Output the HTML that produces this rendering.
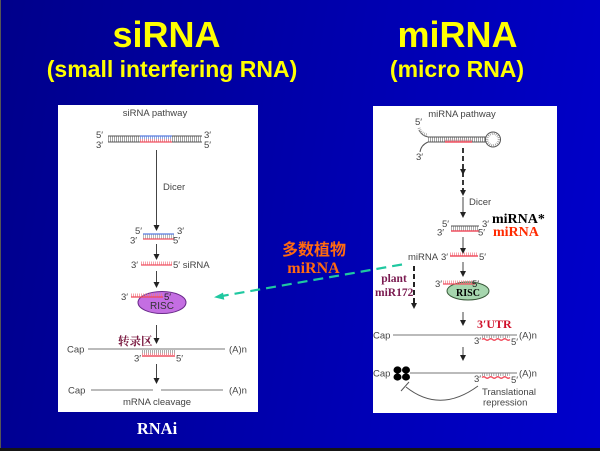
<!DOCTYPE html>
<html><head><meta charset="utf-8"><style>
html,body{margin:0;padding:0}
body{width:600px;height:451px;overflow:hidden;position:relative;background:linear-gradient(100deg,#00008a 0%,#0000b0 55%,#0000cc 100%);}
svg{position:absolute;left:0;top:0}
</style></head><body>
<svg width="600" height="451" viewBox="0 0 600 451" xmlns="http://www.w3.org/2000/svg">
<rect x="0" y="0" width="1" height="451" fill="#555"/>
<rect x="0" y="448" width="600" height="3" fill="#151515"/>
<!-- Titles -->
<g font-family="Liberation Sans, Arial, sans-serif" font-weight="bold" fill="#ffff00">
<text x="166.5" y="47" font-size="36" text-anchor="middle">siRNA</text>
<text x="172" y="77" font-size="23" text-anchor="middle">(small interfering RNA)</text>
<text x="457.5" y="47" font-size="36" text-anchor="middle">miRNA</text>
<text x="457" y="77" font-size="23" text-anchor="middle">(micro RNA)</text>
</g>
<!-- Panels -->
<rect x="58" y="105" width="200" height="307" fill="#fff"/>
<rect x="373" y="106" width="184" height="307" fill="#fff"/>

<g font-family="Liberation Sans, Arial, sans-serif" font-size="9.5" fill="#444">
<!-- LEFT PANEL -->
<text x="155" y="116" text-anchor="middle">siRNA pathway</text>
<!-- long dsRNA -->
<line x1="108" y1="139" x2="202" y2="139" stroke="#777" stroke-width="6" stroke-dasharray="0.7 1.3"/>
<line x1="140" y1="137.5" x2="172" y2="137.5" stroke="#7a9ae8" stroke-width="3" stroke-dasharray="0.7 1.3"/>
<line x1="140" y1="140.5" x2="172" y2="140.5" stroke="#f07a86" stroke-width="3" stroke-dasharray="0.7 1.3"/>
<line x1="108" y1="136" x2="202" y2="136" stroke="#555" stroke-width="1"/>
<line x1="108" y1="142" x2="202" y2="142" stroke="#555" stroke-width="1"/>
<line x1="140" y1="136" x2="172" y2="136" stroke="#5a7ee0" stroke-width="1.3"/>
<line x1="140" y1="142" x2="172" y2="142" stroke="#f05060" stroke-width="1.3"/>
<text x="96" y="138">5′</text><text x="96" y="148">3′</text>
<text x="204" y="138">3′</text><text x="204" y="148">5′</text>
<!-- arrow Dicer -->
<line x1="156.5" y1="150" x2="156.5" y2="226" stroke="#444" stroke-width="1"/>
<path d="M153.5 225 L159.5 225 L156.5 231 Z" fill="#222"/>
<text x="163" y="190">Dicer</text>
<!-- short duplex -->
<line x1="143" y1="236.5" x2="174" y2="236.5" stroke="#999" stroke-width="4" stroke-dasharray="0.7 1.3"/>
<line x1="143" y1="234" x2="174" y2="234" stroke="#5a7ee0" stroke-width="1.3"/>
<line x1="143" y1="239" x2="174" y2="239" stroke="#f05060" stroke-width="1.3"/>
<text x="135" y="234">5′</text><text x="177" y="234">3′</text>
<text x="130" y="243.5">3′</text><text x="173" y="243.5">5′</text>
<line x1="156.5" y1="244" x2="156.5" y2="255" stroke="#444" stroke-width="1"/>
<path d="M153.5 254 L159.5 254 L156.5 260 Z" fill="#222"/>
<!-- siRNA -->
<line x1="141" y1="263" x2="172" y2="263" stroke="#f07a86" stroke-width="3" stroke-dasharray="0.7 1.3"/>
<line x1="141" y1="265" x2="172" y2="265" stroke="#f05060" stroke-width="1.3"/>
<text x="131" y="268">3′</text><text x="173" y="268">5′ siRNA</text>
<line x1="156.5" y1="271" x2="156.5" y2="283" stroke="#444" stroke-width="1"/>
<path d="M153.5 282 L159.5 282 L156.5 288 Z" fill="#222"/>
<!-- RISC purple -->
<ellipse cx="162" cy="302.5" rx="24" ry="11" fill="#c46ee2" stroke="#6a2a8a" stroke-width="1"/>
<line x1="131" y1="295" x2="163" y2="295" stroke="#f07a86" stroke-width="3" stroke-dasharray="0.7 1.3"/>
<line x1="131" y1="297" x2="163" y2="297" stroke="#f04858" stroke-width="1.3"/>
<text x="121" y="300">3′</text><text x="164" y="300" fill="#222">5′</text>
<text x="162" y="309" text-anchor="middle" fill="#333" font-size="10">RISC</text>
<line x1="156.5" y1="325" x2="156.5" y2="339" stroke="#444" stroke-width="1"/>
<path d="M153.5 338 L159.5 338 L156.5 344 Z" fill="#222"/>
<text x="118" y="345" font-family="Liberation Serif, Noto Serif CJK SC, serif" font-weight="bold" font-size="11.5" fill="#7a1a40">转录区</text>
<!-- mRNA 1 -->
<line x1="88" y1="349" x2="225" y2="349" stroke="#777" stroke-width="1"/>
<text x="67" y="352.5">Cap</text><text x="229" y="352.5">(A)n</text>
<line x1="142" y1="352.5" x2="175" y2="352.5" stroke="#888" stroke-width="5" stroke-dasharray="0.7 1.3"/>
<line x1="142" y1="356" x2="175" y2="356" stroke="#f05060" stroke-width="1.5"/>
<line x1="142" y1="354" x2="175" y2="354" stroke="#f07a86" stroke-width="2" stroke-dasharray="0.7 1.3"/>
<text x="134" y="361.5">3′</text><text x="176" y="361.5">5′</text>
<line x1="156.5" y1="364" x2="156.5" y2="379" stroke="#444" stroke-width="1"/>
<path d="M153.5 378 L159.5 378 L156.5 384 Z" fill="#222"/>
<!-- cleavage -->
<line x1="91" y1="390" x2="153" y2="390" stroke="#777" stroke-width="1"/>
<line x1="161" y1="390" x2="223" y2="390" stroke="#777" stroke-width="1"/>
<text x="68" y="393.5">Cap</text><text x="229" y="393.5">(A)n</text>
<text x="157" y="405" text-anchor="middle">mRNA cleavage</text>

<!-- RIGHT PANEL -->
<text x="462" y="117" text-anchor="middle">miRNA pathway</text>
<text x="415" y="125">5′</text>
<text x="416" y="160">3′</text>
<!-- hairpin -->
<line x1="428" y1="139.5" x2="486" y2="139.5" stroke="#777" stroke-width="5" stroke-dasharray="0.7 1.3"/>
<line x1="445" y1="141" x2="472" y2="141" stroke="#f07a86" stroke-width="2.5" stroke-dasharray="0.7 1.3"/>
<line x1="428" y1="137" x2="486" y2="137" stroke="#555" stroke-width="1"/>
<line x1="428" y1="142" x2="486" y2="142" stroke="#555" stroke-width="1"/>
<line x1="445" y1="142" x2="472" y2="142" stroke="#f05060" stroke-width="1.4"/>
<circle cx="493" cy="139.5" r="7.5" fill="none" stroke="#555" stroke-width="1"/>
<circle cx="493" cy="139.5" r="5.8" fill="none" stroke="#888" stroke-width="2.2" stroke-dasharray="0.7 1.3"/>
<path d="M419 130 Q422 136 428 137" fill="none" stroke="#555" stroke-width="1"/>
<path d="M419 128 Q421 134 428 135" fill="none" stroke="#999" stroke-width="3" stroke-dasharray="0.7 1.3"/>
<path d="M428 142 Q421 145 420 152" fill="none" stroke="#555" stroke-width="1"/>
<!-- dashed arrow -->
<line x1="463" y1="148" x2="463" y2="194" stroke="#222" stroke-width="1.8" stroke-dasharray="5 3"/>
<path d="M460 169 L466 169 L463 175 Z" fill="#222"/>
<path d="M460 190 L466 190 L463 196 Z" fill="#222"/>
<line x1="463" y1="197" x2="463" y2="213" stroke="#444" stroke-width="1"/>
<path d="M460 212 L466 212 L463 218 Z" fill="#222"/>
<text x="469" y="205">Dicer</text>
<!-- duplex -->
<line x1="451" y1="228.5" x2="479" y2="228.5" stroke="#888" stroke-width="4" stroke-dasharray="0.7 1.3"/>
<line x1="451" y1="226" x2="479" y2="226" stroke="#555" stroke-width="1"/>
<line x1="451" y1="231" x2="479" y2="231" stroke="#f05060" stroke-width="1.4"/>
<text x="442" y="227">5′</text><text x="482" y="227">3′</text>
<text x="437" y="235.5">3′</text><text x="478" y="235.5">5′</text>
<text x="492" y="223" font-family="Liberation Serif, serif" font-weight="bold" font-size="14" fill="#000">miRNA*</text>
<text x="493" y="236" font-family="Liberation Serif, serif" font-weight="bold" font-size="14" fill="#ff2a00">miRNA</text>
<line x1="463" y1="237" x2="463" y2="249" stroke="#444" stroke-width="1"/>
<path d="M460 248 L466 248 L463 254 Z" fill="#222"/>
<!-- miRNA single -->
<text x="408" y="260">miRNA</text>
<line x1="450" y1="254" x2="478" y2="254" stroke="#f07a86" stroke-width="3" stroke-dasharray="0.7 1.3"/>
<line x1="450" y1="256" x2="478" y2="256" stroke="#f05060" stroke-width="1.4"/>
<text x="441" y="260">3′</text><text x="479" y="260">5′</text>
<line x1="463" y1="262" x2="463" y2="272" stroke="#444" stroke-width="1"/>
<path d="M460 271 L466 271 L463 277 Z" fill="#222"/>
<!-- green RISC -->
<ellipse cx="468" cy="291" rx="21" ry="9" fill="#a6d6ae" stroke="#3a5a3a" stroke-width="1"/>
<line x1="443" y1="282" x2="475" y2="282" stroke="#f07a86" stroke-width="3" stroke-dasharray="0.7 1.3"/>
<line x1="443" y1="284" x2="475" y2="284" stroke="#f05060" stroke-width="1.3"/>
<text x="435" y="287">3′</text><text x="472" y="287" fill="#222">5′</text>
<text x="468" y="296" text-anchor="middle" font-family="Liberation Serif, serif" font-weight="bold" font-size="10" fill="#000">RISC</text>
<!-- plant miR172 -->
<text x="394" y="282" text-anchor="middle" font-family="Liberation Serif, serif" font-weight="bold" font-size="11.5" fill="#7a1a50">plant</text>
<text x="375" y="296" font-family="Liberation Serif, serif" font-weight="bold" font-size="11.5" fill="#7a1a50">miR172</text>
<line x1="414" y1="266" x2="414" y2="304" stroke="#222" stroke-width="2" stroke-dasharray="5 3"/>
<path d="M411 303 L417 303 L414 309 Z" fill="#222"/>
<line x1="463" y1="312" x2="463" y2="321" stroke="#444" stroke-width="1"/>
<path d="M460 320 L466 320 L463 326 Z" fill="#222"/>
<text x="477" y="328" font-family="Liberation Serif, serif" font-weight="bold" font-size="12" fill="#d0102a">3′UTR</text>
<!-- mRNA lines right -->
<line x1="393" y1="335" x2="517" y2="335" stroke="#777" stroke-width="1"/>
<text x="373" y="338.5">Cap</text><text x="519" y="338.5">(A)n</text>
<line x1="482" y1="336.5" x2="510" y2="336.5" stroke="#888" stroke-width="3" stroke-dasharray="0.7 1.6"/>
<path d="M482 339.5 q1.75 -1.5 3.5 0 t3.5 0 t3.5 0 t3.5 0 t3.5 0 t3.5 0 t3.5 0 t3.5 0" fill="none" stroke="#f05060" stroke-width="1.4"/>
<text x="474" y="344">3′</text><text x="511" y="345">5′</text>
<line x1="463" y1="347" x2="463" y2="356" stroke="#444" stroke-width="1"/>
<path d="M460 355 L466 355 L463 361 Z" fill="#222"/>
<line x1="410" y1="373" x2="517" y2="373" stroke="#777" stroke-width="1"/>
<text x="373" y="376.5">Cap</text><text x="519" y="376.5">(A)n</text>
<ellipse cx="397.5" cy="370" rx="4" ry="3.6" fill="#000"/>
<ellipse cx="397.5" cy="377" rx="4" ry="3.6" fill="#000"/>
<ellipse cx="406" cy="370" rx="4" ry="3.6" fill="#000"/>
<ellipse cx="406" cy="377" rx="4" ry="3.6" fill="#000"/>
<line x1="482" y1="374.5" x2="510" y2="374.5" stroke="#888" stroke-width="3" stroke-dasharray="0.7 1.6"/>
<path d="M482 377.5 q1.75 -1.5 3.5 0 t3.5 0 t3.5 0 t3.5 0 t3.5 0 t3.5 0 t3.5 0 t3.5 0" fill="none" stroke="#f05060" stroke-width="1.4"/>
<text x="474" y="382">3′</text><text x="511" y="383">5′</text>
<path d="M406 387 Q440 414 478 386" fill="none" stroke="#555" stroke-width="1"/>
<line x1="401" y1="391" x2="409" y2="382" stroke="#555" stroke-width="1"/>
<text x="482" y="395">Translational</text>
<text x="483" y="405.5">repression</text>
</g>

<!-- green dashed arrow -->
<line x1="402" y1="264.5" x2="222" y2="296" stroke="#1fc8a0" stroke-width="2.2" stroke-dasharray="10 6"/>
<path d="M214 297.3 L223 292.6 L224.3 299.8 Z" fill="#1fc8a0"/>
<!-- orange label -->
<text x="314" y="255" text-anchor="middle" font-family="Liberation Sans, Noto Sans CJK SC, sans-serif" font-weight="bold" font-size="16" fill="#ff6a10">多数植物</text>
<text x="313.5" y="273" text-anchor="middle" font-family="Liberation Serif, serif" font-weight="bold" font-size="16" fill="#ff6a10">miRNA</text>
<!-- RNAi -->
<text x="157" y="434" text-anchor="middle" font-family="Liberation Serif, serif" font-weight="bold" font-size="16.5" fill="#ffffff">RNAi</text>
</svg>
</body></html>
